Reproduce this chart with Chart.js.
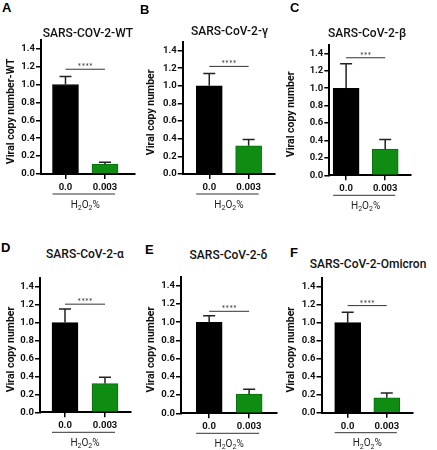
<!DOCTYPE html>
<html>
<head>
<meta charset="utf-8">
<script src="https://cdn.jsdelivr.net/npm/chart.js@4.4.0/dist/chart.umd.min.js"></script>
<style>
  body { margin: 0; background: #fff; width: 437px; height: 450px; position: relative; overflow: hidden; }
  canvas { position: absolute; }
  .letter { position: absolute; font: bold 13px 'Liberation Sans', Arial, sans-serif; color: #000; line-height: 16px; }
  .title { position: absolute; font: 500 12px Roboto, 'Open Sans', sans-serif; color: #111; white-space: nowrap; transform: translateX(-50%); line-height: 14px; }
</style>
</head>
<body>
<script>
// data
const panelLetters = ['A', 'B', 'C', 'D', 'E', 'F'];
const titles = ['SARS-COV-2-WT', 'SARS-CoV-2-γ', 'SARS-CoV-2-β', 'SARS-CoV-2-α', 'SARS-CoV-2-δ', 'SARS-CoV-2-Omicron'];
const yTitles = ['Viral copy number-WT', 'Viral copy number', 'Viral copy number', 'Viral copy number', 'Viral copy number', 'Viral copy number'];
const doses = ['0.0', '0.003'];
const means = [[1.0, 0.11], [1.0, 0.32], [1.0, 0.30], [1.0, 0.32], [1.0, 0.21], [1.0, 0.165]];
const errUp = [[0.09, 0.02], [0.14, 0.07], [0.28, 0.11], [0.15, 0.07], [0.07, 0.055], [0.115, 0.055]];
const sigLevel = [1.17, 1.22, 1.35, 1.205, 1.12, 1.19];
const sigStars = ['****', '****', '***', '****', '****', '****'];
const yMax = 1.5;
const yStep = 0.2;
const barColors = ['#000000', '#0f8c12'];

// where each panel sits on the page
const frames = [
  { axisX: 41,    y0: 174,   unit: 90.9, xEnd: 135,   xMin: -0.62,  xMax: 1.76, yTitleX: 11,    titleX: 88,    titleY: 26,  letterX: 2,   letterY: 0 },
  { axisX: 182.7, y0: 174,   unit: 90,   xEnd: 275,   xMin: -0.675, xMax: 1.67, yTitleX: 151.7, titleX: 229.5, titleY: 24,  letterX: 140, letterY: 2 },
  { axisX: 329.3, y0: 175.3, unit: 88.5, xEnd: 411,   xMin: -0.43,  xMax: 1.66, yTitleX: 291.7, titleX: 367,   titleY: 26,  letterX: 290, letterY: 0 },
  { axisX: 40,    y0: 412.3, unit: 91.3, xEnd: 131,   xMin: -0.625, xMax: 1.65, yTitleX: 11,    titleX: 85,    titleY: 247, letterX: 1,   letterY: 240 },
  { axisX: 181,   y0: 413.3, unit: 92.6, xEnd: 276.7, xMin: -0.705, xMax: 1.69, yTitleX: 151,   titleX: 228.5, titleY: 248, letterX: 145, letterY: 242 },
  { axisX: 321.5, y0: 412.7, unit: 91.7, xEnd: 413,   xMin: -0.67,  xMax: 1.67, yTitleX: 291.7, titleX: 368,   titleY: 257, letterX: 290, letterY: 245 }
];

const boldFamily = 'Roboto, "Open Sans", sans-serif';
const tickFont = { family: boldFamily, size: 9.5, weight: 'bold' };

const marksPlugin = {
  id: 'marks',
  afterDatasetsDraw(chart, args, opts) {
    const ctx = chart.ctx;
    const xs = chart.scales.x, ys = chart.scales.y;
    ctx.save();
    // upper error bars
    ctx.strokeStyle = '#222';
    ctx.lineWidth = 1.5;
    opts.means.forEach((m, i) => {
      const x = xs.getPixelForValue(i);
      const yBar = ys.getPixelForValue(m);
      const yTop = ys.getPixelForValue(m + opts.errs[i]);
      ctx.beginPath();
      ctx.moveTo(x, yBar);
      ctx.lineTo(x, yTop);
      ctx.moveTo(x - 6, yTop);
      ctx.lineTo(x + 6, yTop);
      ctx.stroke();
    });
    // significance line and stars
    const x0 = xs.getPixelForValue(0), x1 = xs.getPixelForValue(1);
    const sy = ys.getPixelForValue(opts.sig);
    ctx.strokeStyle = '#333';
    ctx.lineWidth = 1;
    ctx.beginPath();
    ctx.moveTo(x0, sy);
    ctx.lineTo(x1, sy);
    ctx.stroke();
    ctx.fillStyle = '#333';
    ctx.font = '9px Lato, "Open Sans", sans-serif';
    ctx.textAlign = 'center';
    ctx.textBaseline = 'alphabetic';
    ctx.fillText(opts.stars, (x0 + x1) / 2, sy + 1);
    ctx.restore();
  },
  afterDraw(chart, args, opts) {
    const ctx = chart.ctx;
    const xs = chart.scales.x, ys = chart.scales.y;
    const x0 = xs.getPixelForValue(0), x1 = xs.getPixelForValue(1);
    ctx.save();
    // line under the dose labels
    const uy = xs.top + 20;
    ctx.strokeStyle = '#333';
    ctx.lineWidth = 1;
    ctx.beginPath();
    ctx.moveTo(x0 - 13, uy);
    ctx.lineTo(x1 + 10, uy);
    ctx.stroke();
    // H2O2% with subscripts
    const parts = [['H', 0], ['2', 1], ['O', 0], ['2', 1], ['%', 0]];
    const mainFont = '10px Roboto, "Open Sans", sans-serif';
    const subFont = '7px Roboto, "Open Sans", sans-serif';
    let total = 0;
    parts.forEach(p => { ctx.font = p[1] ? subFont : mainFont; total += ctx.measureText(p[0]).width; });
    let cx = (x0 + x1) / 2 - total / 2;
    const by = xs.top + 33.5;
    ctx.fillStyle = '#222';
    ctx.textAlign = 'left';
    ctx.textBaseline = 'alphabetic';
    parts.forEach(p => {
      ctx.font = p[1] ? subFont : mainFont;
      ctx.fillText(p[0], cx, by + (p[1] ? 2.5 : 0));
      cx += ctx.measureText(p[0]).width;
    });
    // y axis title, centred on the labelled part of the axis
    const lastTick = ys.ticks[ys.ticks.length - 1].value;
    const cy = (ys.getPixelForValue(0) + ys.getPixelForValue(lastTick)) / 2;
    ctx.translate(opts.yTitleX, cy);
    ctx.rotate(-Math.PI / 2);
    ctx.font = 'bold 10.5px ' + boldFamily;
    ctx.textAlign = 'center';
    ctx.textBaseline = 'middle';
    ctx.fillStyle = '#111';
    ctx.fillText(opts.yTitle, 0, 0);
    ctx.restore();
  }
};

frames.forEach((f, p) => {
  const plotTop = f.y0 - yMax * f.unit;
  const left = Math.max(0, Math.floor(Math.min(f.axisX - 40, f.yTitleX - 8)));
  const top = Math.floor(plotTop - 4);
  const width = Math.ceil(f.xEnd - left + 3);
  const height = Math.ceil(f.y0 - top + 42);
  const yAxisW = f.axisX - left;
  const xAxisH = height - (f.y0 - top);

  const cv = document.createElement('canvas');
  cv.width = width;
  cv.height = height;
  cv.style.left = left + 'px';
  cv.style.top = top + 'px';
  document.body.appendChild(cv);

  const letter = document.createElement('div');
  letter.className = 'letter';
  letter.textContent = panelLetters[p];
  letter.style.left = f.letterX + 'px';
  letter.style.top = f.letterY + 'px';
  document.body.appendChild(letter);

  const title = document.createElement('div');
  title.className = 'title';
  title.textContent = titles[p];
  title.style.left = f.titleX + 'px';
  title.style.top = f.titleY + 'px';
  document.body.appendChild(title);

  new Chart(cv.getContext('2d'), {
    type: 'bar',
    data: {
      datasets: [{
        data: means[p].map((v, i) => ({ x: i, y: v })),
        backgroundColor: barColors,
        borderColor: ['#000', '#0b6e0e'],
        borderWidth: 1,
        barThickness: 26
      }]
    },
    options: {
      responsive: false,
      animation: false,
      events: [],
      layout: { padding: { top: plotTop - top, right: width - (f.xEnd - left), left: 0, bottom: 0 } },
      scales: {
        x: {
          type: 'linear',
          min: f.xMin,
          max: f.xMax,
          offset: false,
          afterBuildTicks: (scale) => { scale.ticks = doses.map((d, i) => ({ value: i })); },
          afterFit: (scale) => { scale.height = xAxisH; },
          ticks: {
            callback: (v) => doses[v],
            font: tickFont,
            color: '#111',
            padding: 3,
            maxRotation: 0,
            autoSkip: false
          },
          grid: { offset: false, drawOnChartArea: false, drawTicks: true, tickLength: 5, color: '#000', lineWidth: 1.5 },
          border: { display: true, color: '#000', width: 2 }
        },
        y: {
          min: 0,
          max: yMax,
          afterFit: (scale) => { scale.width = yAxisW; },
          ticks: {
            stepSize: yStep,
            includeBounds: false,
            callback: (v) => v.toFixed(1),
            font: tickFont,
            color: '#111',
            padding: 1
          },
          grid: { drawOnChartArea: false, drawTicks: true, tickLength: 5, color: '#000', lineWidth: 1.5 },
          border: { display: true, color: '#000', width: 2 }
        }
      },
      plugins: {
        legend: { display: false },
        tooltip: { enabled: false },
        title: { display: false },
        marks: {
          means: means[p],
          errs: errUp[p],
          sig: sigLevel[p],
          stars: sigStars[p],
          yTitle: yTitles[p],
          yTitleX: f.yTitleX - left
        }
      }
    },
    plugins: [marksPlugin]
  });
});
</script>
</body>
</html>
